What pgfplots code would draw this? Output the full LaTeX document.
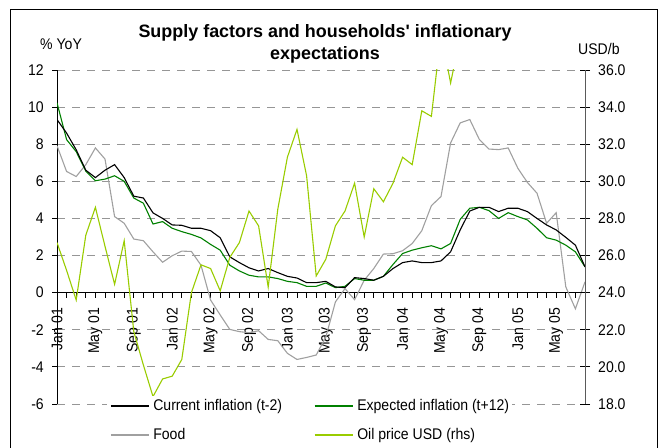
\documentclass[border=0pt]{standalone}
\usepackage{fontspec}
\setmainfont{Liberation Sans}[FakeStretch=0.91]
\newfontfamily\titlefont{Liberation Sans}
\usepackage{pgfplots}
\usepackage{pgfplotstable}
\pgfplotsset{compat=1.18}

\definecolor{expgreen}{RGB}{0,128,0}
\definecolor{foodgray}{RGB}{160,160,160}
\definecolor{oilgreen}{RGB}{153,204,0}
\definecolor{gridgray}{RGB}{150,150,150}
\definecolor{rhsgray}{RGB}{90,90,90}

\newcommand\tickfont{\fontsize{15.5}{18}\selectfont}

% month index (0 = Jan 01), current inflation, expected inflation, food (% YoY), oil (USD/b)
\pgfplotstableread{
m  cur   exp   food  oil
0  9.33  10.23 7.92  26.7
1  8.6   8.25  6.53  25.2
2  7.7   7.6   6.26  23.6
3  6.6   6.55  6.9   27.1
4  6.2   6.03  7.8   28.6
5  6.6   6.12  7.2   26.5
6  6.9   6.3   4.1   24.45
7  6.2   6.0   3.74  26.8
8  5.2   5.1   2.89  21.9
9  5.1   4.82  2.8   20.1
10 4.3   3.7   2.2   18.4
11 4.0   3.83  1.64  19.35
12 3.65  3.47  1.99  19.5
13 3.63  3.29  2.24  20.4
14 3.47  3.14  2.22  24.0
15 3.47  2.95  1.48  25.5
16 3.34  2.6   -0.4  25.3
17 2.96  2.29  -1.2  24.1
18 1.93  1.48  -1.98 25.9
19 1.62  1.17  -2.1  26.7
20 1.34  0.94  -2.16 28.4
21 1.17  0.85  -2.05 27.6
22 1.3   0.85  -2.52 24.3
23 1.08  0.76  -2.59 28.5
24 0.88  0.61  -3.27 31.3
25 0.79  0.54  -3.6  32.8
26 0.54  0.34  -3.49 30.3
27 0.54  0.34  -3.36 24.9
28 0.61  0.52  -2.4  25.8
29 0.31  0.27  -0.5  27.6
30 0.27  0.34  0.22  28.4
31 0.81  0.76  -0.38 29.9
32 0.76  0.67  0.67  27.0
33 0.67  0.67  1.3   29.6
34 0.88  0.88  2.08  28.9
35 1.3   1.52  2.1   29.9
36 1.62  2.11  2.26  31.3
37 1.71  2.29  2.65  30.9
38 1.62  2.42  3.34  33.8
39 1.62  2.53  4.69  33.5
40 1.71  2.36  5.18  38.0
41 2.2   2.65  8.07  35.3
42 3.38  3.95  9.15  37.8
43 4.4   4.55  9.33  42.7
44 4.6   4.6   8.25  43.3
45 4.6   4.42  7.74  49.8
46 4.37  4.0   7.71  43.1
47 4.55  4.31  7.8   39.6
48 4.55  4.1   6.71  44.3
49 4.37  3.92  5.94  45.6
50 4.0   3.47  5.36  53.1
51 3.65  2.96  3.74  51.9
52 3.38  2.83  4.31  48.7
53 2.98  2.56  0.31  54.3
54 2.56  2.2   -0.87 57.5
55 1.39  1.39  0.58  64.0
}\data

\pgfplotsset{
  frame/.style={
    scale only axis, width=528bp, height=334bp,
    at={(57bp,44bp)}, anchor=south west,
    xmin=0, xmax=55,
    /pgf/number format/assume math mode=true,
    ticklabel style={font=\tickfont, inner sep=0pt},
  },
}

\begin{document}
\begin{tikzpicture}
\useasboundingbox (0,0) rectangle (658bp,448bp);
\draw[line width=1bp] (10bp,0bp) -- (10bp,438bp) -- (657.5bp,438bp) -- (657.5bp,0bp);

\node[anchor=base, font=\titlefont\bfseries\fontsize{18}{20}\selectfont] at (325bp,410bp) {Supply factors and households' inflationary};
\node[anchor=base, font=\titlefont\bfseries\fontsize{18}{20}\selectfont] at (325bp,388bp) {expectations};
\node[anchor=base west, font=\tickfont, inner sep=0pt] at (40bp,398bp) {\% YoY};
\node[anchor=base west, font=\tickfont, inner sep=0pt] at (578bp,393bp) {USD/b};

\begin{axis}[
  frame,
  ymin=-6, ymax=12,
  axis x line*=middle, axis y line*=left,
  axis line style={-, black, line width=0.8bp},
  every inner x axis line/.append style={-},
  hide obscured x ticks=false, hide obscured y ticks=false,
  xtick={0,4,...,52},
  xticklabels={Jan 01,May 01,Sep 01,Jan 02,May 02,Sep 02,Jan 03,May 03,Sep 03,Jan 04,May 04,Sep 04,Jan 05,May 05},
  minor xtick={0,...,55},
  ytick={-6,-4,...,12},
  tick align=outside,
  major tick length=5bp, minor tick length=5bp,
  tick style={black, line width=0.8bp},
  ymajorgrids,
  major grid style={gridgray, dash pattern=on 8bp off 7bp, line width=0.9bp},
  xticklabel style={rotate=90, anchor=east},
  xticklabel shift=10bp,
  yticklabel shift=8bp,
]
\addplot[foodgray, line width=1.1bp] table[x=m, y=food] {\data};
\addplot[expgreen, line width=1.1bp] table[x=m, y=exp] {\data};
\addplot[black, line width=1.1bp] table[x=m, y=cur] {\data};
\end{axis}

\begin{axis}[
  frame,
  ymin=18, ymax=36,
  axis x line=none, axis y line*=right,
  axis line style={-, rhsgray, line width=0.9bp},
  ytick={18,20,...,36},
  tick align=center, major tick length=10bp,
  tick style={black, line width=0.8bp},
  yticklabel style={/pgf/number format/.cd, fixed, fixed zerofill, precision=1},
  yticklabel shift=8bp,
  legend columns=2,
  legend cell align=left,
  legend image code/.code={\draw[#1] (0bp,0bp) -- (38bp,0bp);},
  legend style={
    at={(axis description cs:0.0947,0.0254)}, anchor=north west,
    draw=none, fill=white, inner sep=3bp,
    font=\tickfont, row sep=14.5bp, column sep=4bp,
    nodes={inner sep=0pt, text height=11.5bp, text depth=3bp},
    /tikz/every even column/.append style={column sep=32bp},
  },
]
\addlegendimage{black, line width=1.1bp}
\addlegendentry{Current inflation (t-2)}
\addlegendimage{expgreen, line width=1.1bp}
\addlegendentry{Expected inflation (t+12)}
\addlegendimage{foodgray, line width=1.1bp}
\addlegendentry{Food}
\addplot[oilgreen, line width=1.1bp] table[x=m, y=oil] {\data};
\addlegendentry{Oil price USD (rhs)}
\end{axis}
\end{tikzpicture}
\end{document}
